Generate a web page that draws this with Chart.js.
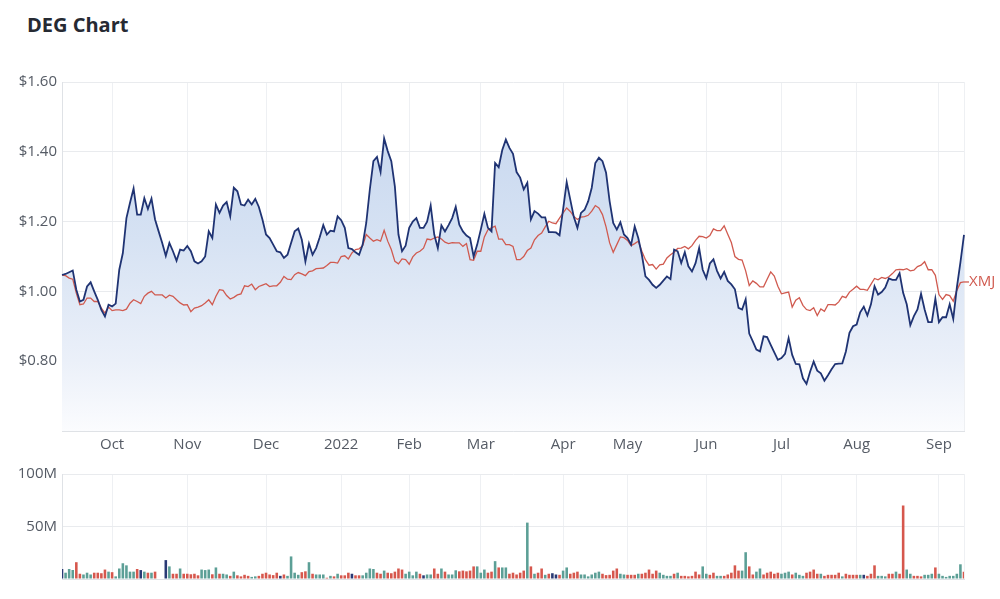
<!DOCTYPE html>
<html>
<head>
<meta charset="utf-8">
<title>DEG Chart</title>
<script src="https://cdn.jsdelivr.net/npm/chart.js@4.4.1/dist/chart.umd.min.js"></script>
<style>
  html, body { margin: 0; padding: 0; background: #fff; }
  body { width: 1000px; height: 599px; position: relative; overflow: hidden; font-family: 'Open Sans', sans-serif; }
  h1 { position: absolute; left: 27px; top: 10px; margin: 0; font: 700 20px/30px 'Open Sans', sans-serif; color: #262a33; }
  #priceBox { position: absolute; left: 0; top: 66px; width: 1000px; height: 394px; }
  #volBox { position: absolute; left: 0; top: 460px; width: 1000px; height: 139px; }
</style>
</head>
<body>
<h1>DEG Chart</h1>
<div id="priceBox"><canvas id="priceChart"></canvas></div>
<div id="volBox"><canvas id="volChart"></canvas></div>
<script>
// trading days on the ASX, 13 Sep 2021 .. 12 Sep 2022
const startDate = '2021-09-13';
const endDate = '2022-09-12';
const holidays = ['2021-12-27', '2021-12-28', '2022-01-03', '2022-01-26',
                  '2022-04-15', '2022-04-18', '2022-04-25', '2022-06-13'];

// month tick labels (first trading day of each month)
const tickLabels = ['Oct', 'Nov', 'Dec', '2022', 'Feb', 'Mar', 'Apr', 'May', 'Jun', 'Jul', 'Aug', 'Sep'];

// DEG close ($)
const degPrice = [
  1.047, 1.05, 1.055, 1.06, 1.005, 0.971, 0.976, 1.014, 1.026, 1.0,
  0.976, 0.947, 0.928, 0.962, 0.957, 0.965, 1.062, 1.11, 1.21, 1.254,
  1.295, 1.22, 1.22, 1.267, 1.236, 1.266, 1.206, 1.172, 1.139, 1.102,
  1.139, 1.115, 1.088, 1.12, 1.117, 1.13, 1.115, 1.086, 1.08, 1.086,
  1.10, 1.172, 1.153, 1.249, 1.225, 1.246, 1.256, 1.215, 1.297, 1.287,
  1.249, 1.246, 1.263, 1.249, 1.265, 1.242, 1.206, 1.163, 1.153, 1.134,
  1.115, 1.112, 1.096, 1.105, 1.139, 1.172, 1.18, 1.148, 1.086, 1.137,
  1.105, 1.124, 1.155, 1.19, 1.163, 1.174, 1.172, 1.215, 1.204, 1.182,
  1.124, 1.121, 1.112, 1.105, 1.134, 1.196, 1.292, 1.373, 1.385, 1.342,
  1.438, 1.402, 1.373, 1.30, 1.163, 1.115, 1.131, 1.182, 1.20, 1.21,
  1.182, 1.182, 1.20, 1.246, 1.163, 1.124, 1.189, 1.172, 1.19, 1.21,
  1.242, 1.191, 1.172, 1.16, 1.153, 1.10, 1.134, 1.177, 1.222, 1.182,
  1.172, 1.368, 1.356, 1.405, 1.435, 1.411, 1.394, 1.342, 1.326, 1.292,
  1.311, 1.206, 1.23, 1.223, 1.212, 1.212, 1.17, 1.17, 1.169, 1.161,
  1.235, 1.313, 1.263, 1.213, 1.182, 1.225, 1.234, 1.258, 1.297, 1.368,
  1.383, 1.373, 1.34, 1.258, 1.196, 1.177, 1.198, 1.163, 1.153, 1.134,
  1.186, 1.153, 1.105, 1.043, 1.033, 1.019, 1.01, 1.019, 1.031, 1.043,
  1.035, 1.12, 1.115, 1.081, 1.112, 1.072, 1.057, 1.081, 1.124, 1.062,
  1.038, 1.08, 1.092, 1.059, 1.037, 1.056, 1.03, 1.02, 1.006, 0.953,
  0.948, 0.977, 0.879, 0.857, 0.833, 0.828, 0.871, 0.869, 0.847, 0.825,
  0.804, 0.809, 0.821, 0.866, 0.818, 0.792, 0.791, 0.751, 0.735, 0.77,
  0.799, 0.773, 0.765, 0.744, 0.76, 0.777, 0.792, 0.793, 0.794, 0.828,
  0.881, 0.90, 0.905, 0.94, 0.956, 0.931, 0.963, 1.015, 0.991, 0.998,
  1.011, 1.037, 1.033, 1.033, 1.052, 0.996, 0.963, 0.903, 0.929, 0.948,
  0.993, 0.948, 0.912, 0.912, 0.979, 0.912, 0.926, 0.926, 0.963, 0.921,
  1.011, 1.083, 1.162
];

// XMJ index, rebased to the DEG start price
const xmjPrice = [
  1.047, 1.045, 1.038, 1.035, 0.995, 0.962, 0.964, 0.981, 0.981, 0.971,
  0.971, 0.952, 0.938, 0.955, 0.945, 0.947, 0.947, 0.945, 0.949, 0.966,
  0.976, 0.971, 0.965, 0.986, 0.995, 1.0, 0.99, 0.99, 0.99, 0.981,
  0.989, 0.986, 0.976, 0.967, 0.961, 0.962, 0.942, 0.952, 0.955, 0.959,
  0.967, 0.976, 0.962, 0.986, 1.005, 1.003, 0.988, 0.978, 0.983, 0.99,
  0.993, 1.016, 1.014, 1.021, 1.005, 1.014, 1.018, 1.022, 1.014, 1.016,
  1.016, 1.026, 1.043, 1.035, 1.034, 1.048, 1.054, 1.05, 1.045, 1.057,
  1.059, 1.065, 1.066, 1.067, 1.074, 1.083, 1.083, 1.081, 1.10, 1.102,
  1.093, 1.11, 1.12, 1.122, 1.131, 1.163, 1.153, 1.144, 1.148, 1.144,
  1.175, 1.144, 1.12, 1.086, 1.079, 1.093, 1.091, 1.078, 1.099, 1.11,
  1.115, 1.124, 1.15, 1.148, 1.153, 1.156, 1.15, 1.141, 1.137, 1.14,
  1.139, 1.139, 1.129, 1.137, 1.091, 1.089, 1.115, 1.115, 1.156, 1.177,
  1.182, 1.187, 1.15, 1.15, 1.134, 1.134, 1.129, 1.091, 1.091, 1.10,
  1.117, 1.124, 1.148, 1.16, 1.167, 1.185, 1.201, 1.196, 1.194, 1.21,
  1.225, 1.239, 1.229, 1.215, 1.206, 1.213, 1.214, 1.218, 1.23, 1.246,
  1.239, 1.22, 1.185, 1.139, 1.112, 1.134, 1.156, 1.154, 1.146, 1.131,
  1.137, 1.144, 1.115, 1.091, 1.075, 1.077, 1.064, 1.076, 1.078, 1.096,
  1.105, 1.112, 1.123, 1.124, 1.129, 1.122, 1.131, 1.146, 1.158, 1.157,
  1.153, 1.16, 1.179, 1.174, 1.174, 1.188, 1.164, 1.14, 1.10, 1.092,
  1.09, 1.059, 1.017, 1.03, 1.023, 1.013, 1.013, 1.035, 1.056, 1.044,
  1.015, 0.993, 0.996, 0.998, 0.955, 0.975, 0.982, 0.96, 0.948, 0.945,
  0.953, 0.931, 0.95, 0.943, 0.962, 0.962, 0.961, 0.97, 0.986, 0.982,
  0.998, 1.006, 1.015, 1.006, 1.006, 1.003, 1.02, 1.037, 1.033, 1.04,
  1.037, 1.042, 1.051, 1.062, 1.063, 1.062, 1.065, 1.059, 1.061, 1.071,
  1.075, 1.085, 1.062, 1.062, 1.046, 0.991, 0.977, 0.991, 0.988, 0.972,
  1.003, 1.025, 1.027
];

// DEG volume (millions of shares)
const volumeM = [
  9.5, 6, 9.5, 8.6, 16, 5, 4.3, 6, 4.3, 6,
  6, 5.5, 9, 7, 6.5, 2.5, 10, 15, 13, 7,
  7, 9.5, 8.5, 7, 6, 6, 7, 0.5, 0.5, 18,
  12, 5, 5, 10, 5, 5, 4.5, 5, 3.5, 9,
  8.5, 9, 4.5, 11, 5, 5, 4.3, 3, 7, 3.5,
  2.5, 4, 3, 2, 2.5, 3, 5, 6, 4.3, 3.7,
  6, 3, 4.3, 3, 21.5, 6, 4, 6.5, 7.3, 16,
  5, 4.3, 4.3, 4.3, 1.2, 3, 2.5, 5, 3.5, 3.5,
  6, 5, 3.5, 3.5, 3.5, 6, 10, 9.5, 6, 5,
  8, 6, 5.5, 7, 10, 9, 5, 7, 3.5, 7,
  5, 3.5, 4.3, 4.3, 10, 5, 10, 7, 4.3, 4.3,
  8.3, 7.3, 8, 7.3, 8, 12, 12, 6, 9, 6,
  7, 17, 11, 11, 11, 5, 6, 4.3, 6, 8,
  53.7, 12, 5, 6, 10, 4, 5, 5.5, 4.3, 4,
  8, 11, 5, 6, 7, 4.3, 4.3, 2.5, 4.3, 6,
  7, 5, 3.7, 4, 8, 10, 5, 4.3, 4, 4,
  4, 5, 5, 6, 9, 5, 8, 6, 4, 3,
  3, 5, 6, 3, 3, 2.5, 3, 7, 4.3, 12,
  5, 4, 6, 3, 3, 3, 4.3, 6, 13, 8,
  8, 25.5, 12, 4.3, 7, 10, 4.3, 6, 7, 5,
  6, 5, 6, 7, 4.3, 6, 4, 3, 6, 7,
  9, 5, 5, 3, 4, 4, 4, 6, 2.5, 5,
  4, 4, 4, 4, 4, 3, 5, 13, 3, 3,
  2.5, 5, 5, 7, 5, 70, 9, 5, 3, 3,
  2.5, 4, 4, 5, 11, 5, 3, 2, 3, 3,
  5, 14, 7
];

// day direction per bar: U = up, D = down, F = flat
const volDirection = (
  'FUUUDDUUUD DDDUDUUUUU UDFUDUDFFF UDDUDDDDDU UUDUDUUDUD DDDUUDDDDD ' +
  'DFDUUUUDDU DUUUDUDUDD DFDDUUUUDD UDDDDDUUUU DFUUDDUDUU UDDDDDUUUD ' +
  'DUDUUDDDDD UDUDDUDFFD UUDDDUUUUU UDDDDDUUDD DUDDDDDUUU UDUDDDDDDU ' +
  'UDDUUDDDDD UUDDUUDDDD DUUUDUUUDD DDUDDDDDUD DDDUFDDDUU UDDUDDUUDD ' +
  'DUUUDUUUUU UUDUUDDUUD FUDDDUUDDD UUDUFUDUUU'
).replace(/ /g, '').split('');

// ===================== helpers =====================

function tradingDays() {
  const out = [];
  let d = new Date(startDate + 'T00:00:00Z');
  const end = new Date(endDate + 'T00:00:00Z');
  while (d <= end) {
    const iso = d.toISOString().slice(0, 10);
    const wd = d.getUTCDay();
    if (wd !== 0 && wd !== 6 && !holidays.includes(iso)) out.push(iso);
    d = new Date(d.getTime() + 86400000);
  }
  return out;
}

const dates = tradingDays();
const monthStarts = [];
dates.forEach((d, i) => {
  if (i > 0 && d.slice(0, 7) !== dates[i - 1].slice(0, 7)) monthStarts.push(i);
});
const lastIdx = dates.length - 1;

const colors = {
  deg: '#1f3373',
  xmj: '#d05a4f',
  text: '#555b65',
  grid: '#e9ebee',
  vgrid: '#eef0f3',
  border: '#dfe2e6',
  up: '#5c9f96',
  down: '#d6574d',
  flat: '#2a3a75'
};

Chart.defaults.font.family = "'Open Sans', sans-serif";
Chart.defaults.font.size = 15;
Chart.defaults.color = colors.text;
Chart.defaults.animation = false;

// month ticks + a closing tick at the last day (draws the right edge line)
function monthTicks(scale) {
  scale.ticks = monthStarts.concat([lastIdx]).map(v => ({ value: v }));
}
function monthLabel(value) {
  const k = monthStarts.indexOf(value);
  return k >= 0 ? tickLabels[k] : '';
}

function fillGradient(ctx) {
  const { chart } = ctx;
  const area = chart.chartArea;
  if (!area) return 'rgba(200,215,238,0.6)';
  const g = chart.ctx.createLinearGradient(0, area.top, 0, area.bottom);
  g.addColorStop(0, '#c3d4ee');
  g.addColorStop(0.45, '#d6e2f3');
  g.addColorStop(0.8, '#ebf0f9');
  g.addColorStop(1, '#fbfcfe');
  return g;
}

// series label at the end of the XMJ line
const endLabel = {
  id: 'endLabel',
  afterDatasetsDraw(chart) {
    const meta = chart.getDatasetMeta(1);
    const pt = meta.data[meta.data.length - 1];
    if (!pt) return;
    const c = chart.ctx;
    c.save();
    c.strokeStyle = colors.xmj;
    c.lineWidth = 1.3;
    c.beginPath();
    c.moveTo(pt.x, pt.y);
    c.lineTo(pt.x + 5, pt.y);
    c.stroke();
    c.fillStyle = colors.xmj;
    c.font = "15px 'Open Sans', sans-serif";
    c.textBaseline = 'middle';
    c.fillText('XMJ', pt.x + 5, pt.y);
    c.restore();
  }
};

// ===================== price chart =====================

new Chart(document.getElementById('priceChart'), {
  type: 'line',
  data: {
    labels: dates,
    datasets: [
      {
        label: 'DEG',
        data: degPrice,
        borderColor: colors.deg,
        borderWidth: 1.8,
        backgroundColor: fillGradient,
        fill: 'start',
        pointRadius: 0,
        tension: 0
      },
      {
        label: 'XMJ',
        data: xmjPrice,
        borderColor: colors.xmj,
        borderWidth: 1.3,
        fill: false,
        pointRadius: 0,
        tension: 0
      }
    ]
  },
  options: {
    responsive: true,
    maintainAspectRatio: false,
    layout: { padding: { top: 16, right: 36, left: 0, bottom: 0 } },
    plugins: {
      legend: { display: false },
      tooltip: { enabled: false },
      filler: { drawTime: 'beforeDatasetsDraw' }
    },
    scales: {
      x: {
        type: 'category',
        offset: false,
        afterBuildTicks: monthTicks,
        afterFit: s => { s.height = 29; },
        grid: { color: colors.vgrid, drawTicks: false, offset: false },
        border: { color: colors.border },
        ticks: { callback: monthLabel, autoSkip: false, maxRotation: 0, padding: 5 }
      },
      y: {
        min: 0.6,
        max: 1.6,
        afterFit: s => { s.width = 62; },
        grid: { color: colors.grid, drawTicks: false },
        border: { color: colors.border },
        ticks: {
          stepSize: 0.2,
          padding: 5,
          callback: v => (v < 0.65 ? '' : '$' + v.toFixed(2))
        }
      }
    }
  },
  plugins: [endLabel]
});

// ===================== volume chart =====================

const dirColor = { U: colors.up, D: colors.down, F: colors.flat };

new Chart(document.getElementById('volChart'), {
  type: 'bar',
  data: {
    labels: dates,
    datasets: [{
      label: 'Volume',
      data: volumeM,
      backgroundColor: volDirection.map(d => dirColor[d]),
      barPercentage: 0.72,
      categoryPercentage: 1
    }]
  },
  options: {
    responsive: true,
    maintainAspectRatio: false,
    layout: { padding: { top: 11, right: 36, left: 0, bottom: 0 } },
    plugins: { legend: { display: false }, tooltip: { enabled: false } },
    scales: {
      x: {
        type: 'category',
        offset: false,
        afterBuildTicks: monthTicks,
        afterFit: s => { s.height = 20; },
        grid: { color: colors.vgrid, drawTicks: false, offset: false },
        border: { color: colors.border },
        ticks: { display: false }
      },
      y: {
        min: 0,
        max: 100,
        afterFit: s => { s.width = 62; },
        grid: { color: colors.grid, drawTicks: false },
        border: { color: colors.border },
        ticks: { stepSize: 50, padding: 5, callback: v => (v === 0 ? '' : v + 'M') }
      }
    }
  }
});
</script>
</body>
</html>
